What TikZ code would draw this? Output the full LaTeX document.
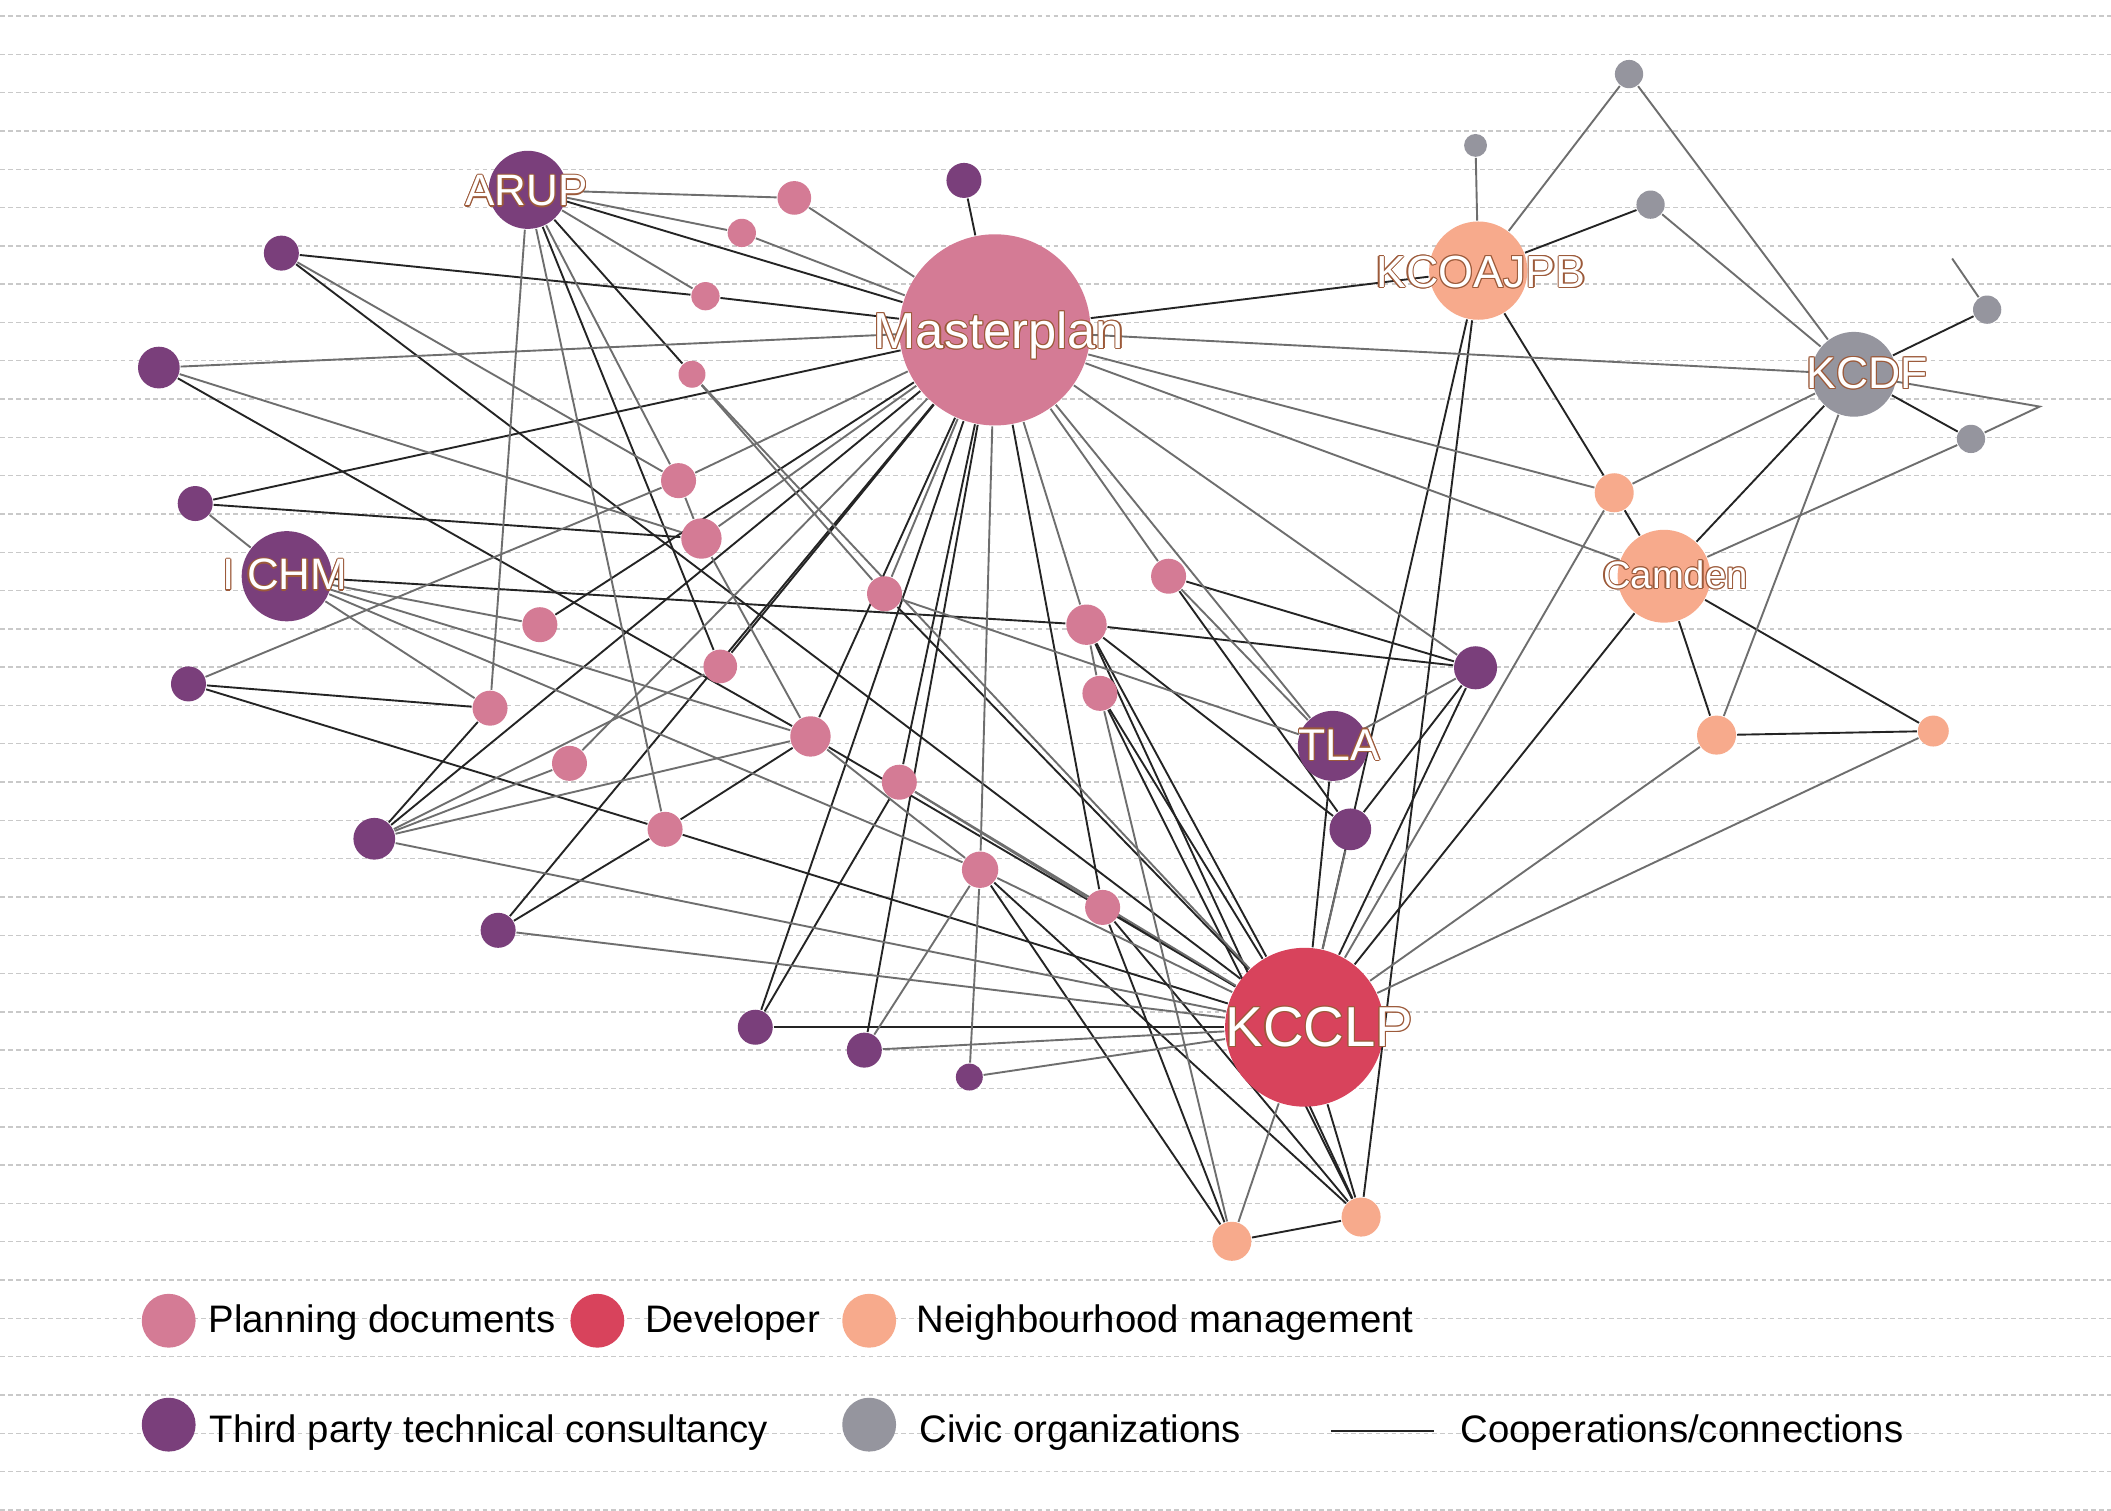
\documentclass[tikz,border=0pt]{standalone}
\usepackage{fontspec}
\setmainfont{Liberation Sans}
\definecolor{cpink}{HTML}{D47B95}
\definecolor{cred}{HTML}{D8435C}
\definecolor{corange}{HTML}{F7AA8C}
\definecolor{cpurple}{HTML}{7A3F7B}
\definecolor{cgrey}{HTML}{95959E}
\definecolor{cdark}{HTML}{242424}
\definecolor{cmid}{HTML}{6E6E6E}
\definecolor{cgrid}{HTML}{C9C9C9}
\definecolor{olbrown}{HTML}{9C5A3A}
\newlength\olw
\setlength\olw{0.25pt}
\newcommand\outlined[1]{%
 \rlap{\textcolor{olbrown}{\kern\olw #1}}%
 \rlap{\textcolor{olbrown}{\kern-\olw #1}}%
 \rlap{\textcolor{olbrown}{\raisebox{\olw}{#1}}}%
 \rlap{\textcolor{olbrown}{\raisebox{-\olw}{#1}}}%
 \rlap{\textcolor{olbrown}{\kern0.7\olw\raisebox{0.7\olw}{#1}}}%
 \rlap{\textcolor{olbrown}{\kern-0.7\olw\raisebox{0.7\olw}{#1}}}%
 \rlap{\textcolor{olbrown}{\kern0.7\olw\raisebox{-0.7\olw}{#1}}}%
 \rlap{\textcolor{olbrown}{\kern-0.7\olw\raisebox{-0.7\olw}{#1}}}%
 \textcolor{white}{#1}}
\pgfdeclarelayer{paper}
\pgfdeclarelayer{grid}
\pgfdeclarelayer{edges}
\pgfdeclarelayer{labels}
\pgfsetlayers{paper,grid,edges,main,labels}
\begin{document}
\begin{tikzpicture}[x=0.1mm,y=-0.1mm,
  nd/.style={circle,inner sep=0pt,minimum size=#1,draw=none},
  de/.style={draw=cdark,line width=0.4pt},
  ge/.style={draw=cmid,line width=0.4pt},
  gridline/.style={draw=cgrid,line width=0.3pt,dash pattern=on 1pt off 0.7pt},
  lbl/.style={inner sep=0pt,anchor=base},
  ltxt/.style={anchor=base west,inner sep=0pt,font=\fontsize{8.1pt}{10pt}\selectfont}]
\useasboundingbox (0,0) rectangle (1568,1121.6);
\begin{pgfonlayer}{paper}
\fill[white] (0,0) rectangle (1568,1121.6);
\end{pgfonlayer}
\begin{pgfonlayer}{grid}
\foreach \k in {0,...,39} \draw[gridline] (0,11.9+28.45*\k) -- (1568,11.9+28.45*\k);
\end{pgfonlayer}
% main nodes
\node[nd=14.2mm,fill=cpink] (MP) at (739,245) {};
\node[nd=11.8mm,fill=cred] (KC) at (969,763) {};
\node[nd=7.3mm,fill=corange] (KO) at (1098,201) {};
\node[nd=6.3mm,fill=cgrey] (KD) at (1377,278) {};
\node[nd=6.9mm,fill=corange] (CA) at (1236,428) {};
\node[nd=5.8mm,fill=cpurple] (AR) at (392,141) {};
\node[nd=6.7mm,fill=cpurple] (IC) at (213,428) {};
\node[nd=5.2mm,fill=cpurple] (TL) at (990,554) {};
% planning documents
\node[nd=2.5mm,fill=cpink] (p1) at (590,147) {};
\node[nd=2.1mm,fill=cpink] (p2) at (551,173) {};
\node[nd=2.1mm,fill=cpink] (p3) at (524,220) {};
\node[nd=2.0mm,fill=cpink] (p4) at (514,278) {};
\node[nd=2.6mm,fill=cpink] (p5) at (504,357) {};
\node[nd=3.0mm,fill=cpink] (p6) at (521,400) {};
\node[nd=2.6mm,fill=cpink] (p7) at (401,464) {};
\node[nd=2.6mm,fill=cpink] (p8) at (364,526) {};
\node[nd=2.5mm,fill=cpink] (p9) at (535,495) {};
\node[nd=2.6mm,fill=cpink] (p10) at (423,567) {};
\node[nd=3.0mm,fill=cpink] (p11) at (602,547) {};
\node[nd=2.6mm,fill=cpink] (p12) at (494,616) {};
\node[nd=2.6mm,fill=cpink] (p13) at (657,441) {};
\node[nd=2.6mm,fill=cpink] (p14) at (668,581) {};
\node[nd=2.7mm,fill=cpink] (p15) at (728,646) {};
\node[nd=3.0mm,fill=cpink] (p16) at (807,464) {};
\node[nd=2.6mm,fill=cpink] (p17) at (817,515) {};
\node[nd=2.6mm,fill=cpink] (p18) at (868,428) {};
\node[nd=2.6mm,fill=cpink] (p19) at (819,674) {};
% consultancies
\node[nd=2.6mm,fill=cpurple] (u1) at (716,134) {};
\node[nd=2.6mm,fill=cpurple] (u2) at (209,188) {};
\node[nd=3.1mm,fill=cpurple] (u3) at (118,273) {};
\node[nd=2.6mm,fill=cpurple] (u4) at (145,374) {};
\node[nd=2.6mm,fill=cpurple] (u5) at (140,508) {};
\node[nd=3.1mm,fill=cpurple] (u6) at (278,623) {};
\node[nd=2.6mm,fill=cpurple] (u7) at (370,691) {};
\node[nd=2.6mm,fill=cpurple] (u8) at (561,763) {};
\node[nd=2.6mm,fill=cpurple] (u9) at (642,780) {};
\node[nd=2.0mm,fill=cpurple] (u10) at (720,800) {};
\node[nd=3.2mm,fill=cpurple] (u11) at (1096,496) {};
\node[nd=3.1mm,fill=cpurple] (u12) at (1003,616) {};
% neighbourhood
\node[nd=2.9mm,fill=corange] (o1) at (1199,366) {};
\node[nd=2.9mm,fill=corange] (o2) at (1275,546) {};
\node[nd=2.3mm,fill=corange] (o3) at (1436,543) {};
\node[nd=2.9mm,fill=corange] (o4) at (915,922) {};
\node[nd=2.9mm,fill=corange] (o5) at (1011,904) {};
% civic
\node[nd=2.1mm,fill=cgrey] (g1) at (1210,55) {};
\node[nd=1.7mm,fill=cgrey] (g2) at (1096,108) {};
\node[nd=2.1mm,fill=cgrey] (g3) at (1226,152) {};
\node[nd=2.1mm,fill=cgrey] (g4) at (1476,230) {};
\node[nd=2.1mm,fill=cgrey] (g5) at (1464,326) {};
\coordinate (g4end) at (1450,192);
\coordinate (kdb) at (1515,302);
% edges
\begin{pgfonlayer}{edges}
\foreach \a/\b in {MP/u1,MP/KO,MP/p19,MP/u9,MP/p14,MP/p11,MP/u8,MP/p9,MP/u6,MP/u7,MP/p7,MP/u4,MP/p3,MP/AR,
  AR/p4,AR/p9,u2/p3,u2/KC,u3/p11,u4/p6,IC/p16,u5/p8,u5/p12,u6/p8,u7/p12,p12/p11,p12/KC,p11/KC,p13/KC,
  u8/p14,u8/KC,p15/o4,p15/o5,p16/u11,p16/u12,p16/KC,p16/o5,p17/KC,p17/o5,p18/u11,p18/u12,p19/KC,p19/o4,p19/o5,
  TL/KC,u11/u12,u11/KC,KO/g3,KO/o1,KO/KC,KO/o5,KD/g4,KD/g5,KD/CA,o1/CA,CA/KC,CA/o2,CA/o3,o2/o3,KC/o5,o4/o5}
  \draw[de] (\a) -- (\b);
\foreach \a/\b in {MP/KD,MP/o1,MP/CA,MP/u11,MP/TL,MP/p18,MP/p16,MP/p15,MP/p10,MP/p6,MP/p5,MP/p13,MP/u3,MP/p2,MP/p1,
  AR/p1,AR/p2,AR/p3,AR/p5,AR/p8,AR/p12,u2/p5,u3/p6,u4/IC,IC/p7,IC/p8,IC/p11,IC/p15,u5/p5,u6/p9,u6/p10,u6/p11,u6/KC,
  u7/KC,p5/p6,p6/p11,p11/p15,p4/p13,p4/KC,p13/TL,u9/p15,u9/KC,p15/u10,u10/KC,p14/KC,p14/p19,p15/KC,p16/p17,p17/o4,
  p18/TL,TL/u11,u12/KC,KO/g2,KO/g1,g1/KD,g3/KD,g4/g4end,KD/o1,KD/o2,g5/CA,o1/KC,o2/KC,o3/KC,KC/o4}
  \draw[ge] (\a) -- (\b);
\draw[ge] (KD) -- (kdb) -- (g5);
\end{pgfonlayer}
% labels
\begin{pgfonlayer}{labels}
\node[lbl,font=\fontsize{10.7pt}{12pt}\selectfont] (MPl) at (742,258.7) {\outlined{Masterplan}};
\node[lbl,font=\fontsize{11.9pt}{13pt}\selectfont] (KCl) at (980,777.3) {\outlined{KCCLP}};
\node[lbl,font=\fontsize{9.5pt}{11pt}\selectfont] (KOl) at (1100,213.4) {\outlined{KCOAJPB}};
\node[lbl,font=\fontsize{9.4pt}{11pt}\selectfont] (KDl) at (1387,288.4) {\outlined{KCDF}};
\node[lbl,font=\fontsize{8.1pt}{10pt}\selectfont] (CAl) at (1244.5,437.1) {\outlined{Camden}};
\node[lbl,font=\fontsize{9.3pt}{11pt}\selectfont] (ARl) at (391.2,153) {\outlined{ARUP}};
\node[lbl,font=\fontsize{9.3pt}{11pt}\selectfont] (ICl) at (211.7,438.2) {\outlined{I CHM}};
\node[lbl,font=\fontsize{9.4pt}{11pt}\selectfont] (TLl) at (994.7,564.6) {\outlined{TLA}};
\end{pgfonlayer}
% legend
\node[nd=4mm,fill=cpink] (lc1) at (125.3,981) {};
\node[ltxt] (lt1) at (154.2,989.5) {Planning documents};
\node[nd=4mm,fill=cred] (lc2) at (443.7,981) {};
\node[ltxt] (lt2) at (478.5,989.5) {Developer};
\node[nd=4mm,fill=corange] (lc3) at (645.6,981) {};
\node[ltxt] (lt3) at (680.4,989.5) {Neighbourhood management};
\node[nd=4mm,fill=cpurple] (lc4) at (125.3,1058.2) {};
\node[ltxt] (lt4) at (155.2,1071.7) {Third party technical consultancy};
\node[nd=4mm,fill=cgrey] (lc5) at (645.6,1058.2) {};
\node[ltxt] (lt5) at (682.3,1071.7) {Civic organizations};
\coordinate (ll1) at (988.5,1063);
\coordinate (ll2) at (1065,1063);
\draw[de] (ll1) -- (ll2);
\node[ltxt] (lt6) at (1084,1071.7) {Cooperations/connections};
\end{tikzpicture}
\end{document}
